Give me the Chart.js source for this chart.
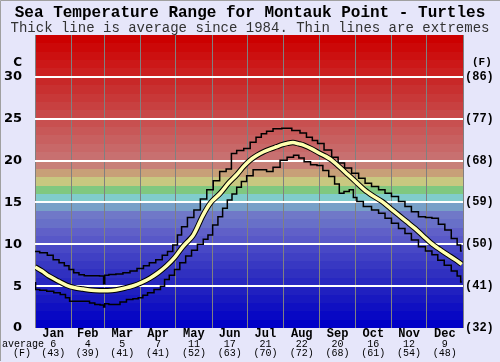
<!DOCTYPE html>
<html><head><meta charset="utf-8">
<script src="https://cdn.jsdelivr.net/npm/chart.js@4"></script>
<style>html,body{margin:0;padding:0;background:#e6e6fa;overflow:hidden}#wrap{width:500px;height:362px;position:relative}</style>
</head><body><div id="wrap"><canvas id="c" width="500" height="362"></canvas></div>
<script>
const months = ['Jan','Feb','Mar','Apr','May','Jun','Jul','Aug','Sep','Oct','Nov','Dec'];
const monthStartDays = [0,31,59,90,120,151,181,212,243,273,304,334,365];
const monthAvgC = [6,4,5,7,11,17,21,22,20,16,12,9];
const monthAvgF = [43,39,41,41,52,63,70,72,68,61,54,48];
const yTicksC = [0,5,10,15,20,25,30];
const yTicksF = ['(32)','(41)','(50)','(59)','(68)','(77)','(86)'];

const avgDays = [0,6,12,20,27,34,41,48,55,62,69,76,84,91,98,105,112,119,126,135,143,150,158,165,172,178,183,189,195,200,206,211,215,220,225,229,236,243,248,253,260,267,274,281,288,296,303,310,317,324,331,338,345,352,358,364];
const avgTemps = [7.3,6.8,6.2,5.6,5.1,4.8,4.65,4.5,4.45,4.45,4.55,4.75,5.05,5.45,5.95,6.6,7.4,8.4,9.7,11.1,13.4,15.0,16.1,17.3,18.3,19.3,20.0,20.6,21.05,21.35,21.65,21.9,22.05,22.15,22.0,21.85,21.4,20.85,20.5,20.05,19.2,18.3,17.4,16.5,15.8,15.1,14.3,13.5,12.7,11.9,11.0,10.1,9.4,8.75,8.2,7.6];

const maxDays = [0,8,13,18,23,27,31,35,40,44,52,58,59,60,66,72,78,84,90,95,100,106,111,115,120,123,127,133,138,144,149,155,160,166,169,175,181,186,191,195,200,206,215,223,229,234,239,243,250,256,261,267,273,279,284,290,296,301,307,313,318,324,330,336,341,347,352,358,362,364];
const maxTemps = [9.15,9.0,8.7,8.15,7.8,7.45,7.0,6.6,6.35,6.25,6.25,6.2,5.3,6.3,6.4,6.45,6.6,6.8,7.1,7.45,7.8,8.15,8.7,9.15,9.9,11.1,12.1,13.2,14.1,15.4,16.5,17.6,18.7,19.0,20.85,21.2,21.45,22.2,22.8,23.2,23.5,23.8,23.85,23.6,23.3,22.8,22.4,22.05,21.25,20.4,19.7,19.1,18.5,17.9,17.3,16.9,16.5,16.1,15.7,15.1,14.5,13.9,13.3,13.2,13.1,12.4,11.7,10.7,9.9,9.2];

const minDays = [0,1,7,13,19,24,28,31,38,44,49,53,58,59,60,66,70,75,81,86,90,94,98,105,109,112,117,121,126,131,136,141,146,149,154,158,162,166,170,174,178,183,189,195,200,206,212,218,223,227,232,238,243,248,253,258,261,266,270,273,276,284,290,296,301,307,313,318,324,330,336,341,346,352,358,362,364];
const minTemps = [5.4,4.6,4.5,4.4,4.2,4.0,3.6,3.2,3.2,3.2,3.0,2.8,2.75,2.5,2.9,2.8,2.8,3.1,3.4,3.5,3.6,3.9,4.2,4.6,5.0,5.8,6.3,7.0,7.8,8.6,9.3,10.0,10.6,11.1,12.3,13.3,14.3,15.3,16.0,16.8,17.5,18.2,18.9,18.9,18.7,19.2,20.05,20.4,20.65,20.3,19.85,19.5,19.4,18.8,18.1,17.2,16.1,16.3,16.5,15.6,15.1,14.5,14.1,13.7,13.1,12.5,11.9,11.3,10.5,9.7,9.2,8.75,8.1,7.5,6.8,6.2,5.5];

// one colour per 1-degree band, from 0 upwards
const bandColors = ['#0000c8','#0808c4','#1010c2','#1818c0','#2020c0','#2828c0','#3030c0','#3838c2','#4040c4','#4848c6',
  '#5858c8','#6060c8','#6870c8','#7078c8','#78a0c8','#80cccc','#80c880','#c8c880','#c8a078','#c88078',
  '#c87070','#c86868','#c86060','#c85858','#c85050','#c84848','#c84040','#c83838','#c83030','#c82828',
  '#cc2020','#cc1818','#cc1010','#cc0808','#cc0000'];

const pts = (xs, ys) => xs.map((d, i) => ({x: d, y: ys[i]}));

const bandsPlugin = {
  id: 'bands',
  beforeDraw(chart) {
    const {ctx, chartArea: a, scales: {y}} = chart;
    ctx.save();
    for (let i = 0; i < bandColors.length; i++) {
      const y0 = Math.round(y.getPixelForValue(i));
      const y1 = Math.round(y.getPixelForValue(i + 1));
      ctx.fillStyle = bandColors[i];
      ctx.fillRect(a.left, y1, a.right - a.left, y0 - y1);
    }
    ctx.restore();
  }
};

const extrasPlugin = {
  id: 'extras',
  afterDraw(chart) {
    const {ctx, chartArea: a, scales: {y}} = chart;
    ctx.save();
    ctx.fillStyle = '#000';
    ctx.textBaseline = 'middle';
    ctx.font = 'bold 12px "DejaVu Sans"';
    ctx.textAlign = 'right';
    ctx.fillText('C', a.left - 13, y.getPixelForValue(31.7));
    ctx.font = 'bold 11px "Liberation Mono"';
    ctx.textAlign = 'left';
    ctx.fillText('(F)', a.right + 9, y.getPixelForValue(31.7));
    ctx.font = '10px "Liberation Mono"';
    ctx.textAlign = 'left';
    ctx.fillText('average', 2, 344.5);
    ctx.textAlign = 'center';
    ctx.fillText('(F)', 22, 353.5);
    ctx.strokeStyle = '#a0a0a0';
    ctx.lineWidth = 1;
    ctx.beginPath();
    ctx.moveTo(0.5, 361); ctx.lineTo(0.5, 0.5); ctx.lineTo(500, 0.5);
    ctx.stroke();
    ctx.restore();
  }
};

new Chart(document.getElementById('c'), {
  type: 'line',
  data: {
    datasets: [
      {data: pts(minDays, minTemps), borderColor: '#000', borderWidth: 1.5, pointRadius: 0, stepped: 'middle', order: 4},
      {data: pts(maxDays, maxTemps), borderColor: '#000', borderWidth: 1.5, pointRadius: 0, stepped: 'middle', order: 3},
      {data: pts(avgDays, avgTemps), borderColor: '#000', borderWidth: 5.5, pointRadius: 0, tension: 0.3, order: 2},
      {data: pts(avgDays, avgTemps), borderColor: '#ffffb0', borderWidth: 3.5, pointRadius: 0, tension: 0.3, order: 1}
    ]
  },
  options: {
    responsive: false,
    animation: false,
    devicePixelRatio: 1,
    layout: {padding: 0},
    plugins: {
      legend: {display: false},
      tooltip: {enabled: false},
      title: {display: true, text: 'Sea Temperature Range for Montauk Point - Turtles', color: '#000',
        font: {family: 'Liberation Mono', weight: 'bold', size: 16, lineHeight: 1}, padding: {top: 5, bottom: 0}},
      subtitle: {display: true, text: 'Thick line is average since 1984. Thin lines are extremes', color: '#333',
        font: {family: 'Liberation Mono', size: 14, lineHeight: 1}, padding: {top: 0, bottom: 0}}
    },
    scales: {
      x: {type: 'linear', min: 0, max: 365, position: 'bottom', weight: 0,
        afterBuildTicks: s => { s.ticks = monthStartDays.map(v => ({value: v})); },
        ticks: {display: false},
        grid: {color: '#808080', lineWidth: 1, drawTicks: false},
        border: {display: false},
        afterFit: s => { s.height = 0; }},
      xm: {type: 'linear', min: 0, max: 365, position: 'bottom', weight: 1,
        afterBuildTicks: s => { s.ticks = months.map((m, i) => ({value: (monthStartDays[i] + monthStartDays[i + 1]) / 2})); },
        ticks: {autoSkip: false, maxRotation: 0, padding: 0, color: '#000',
          font: {family: 'Liberation Mono', weight: 'bold', size: 12, lineHeight: 1},
          callback: (v, i) => months[i]},
        grid: {display: false, drawTicks: false},
        border: {display: false},
        afterFit: s => { s.height = 12; }},
      xn: {type: 'linear', min: 0, max: 365, position: 'bottom', weight: 2,
        afterBuildTicks: s => { s.ticks = months.map((m, i) => ({value: (monthStartDays[i] + monthStartDays[i + 1]) / 2})); },
        ticks: {autoSkip: false, maxRotation: 0, padding: 0, color: '#000',
          font: {family: 'Liberation Mono', size: 10, lineHeight: 0.9},
          callback: (v, i) => [String(monthAvgC[i]), '(' + monthAvgF[i] + ')']},
        grid: {display: false, drawTicks: false},
        border: {display: false},
        afterFit: s => { s.height = 22; }},
      y: {type: 'linear', min: 0, max: 35, position: 'left',
        afterBuildTicks: s => { s.ticks = yTicksC.map(v => ({value: v})); },
        ticks: {padding: 13, color: '#000', font: {family: 'DejaVu Sans', weight: 'bold', size: 13}},
        grid: {color: c => (c.tick && c.tick.value > 0) ? '#ffffff' : 'rgba(0,0,0,0)', lineWidth: 2, drawTicks: false},
        border: {display: false},
        afterFit: s => { s.width = 35; }},
      y2: {type: 'linear', min: 0, max: 35, position: 'right',
        afterBuildTicks: s => { s.ticks = yTicksC.map(v => ({value: v})); },
        ticks: {padding: 2, color: '#000', font: {family: 'Liberation Mono', weight: 'bold', size: 12},
          callback: (v, i) => yTicksF[i]},
        grid: {display: false, drawTicks: false},
        border: {display: false},
        afterFit: s => { s.width = 37; }}
    }
  },
  plugins: [bandsPlugin, extrasPlugin]
});
</script>
</body></html>
